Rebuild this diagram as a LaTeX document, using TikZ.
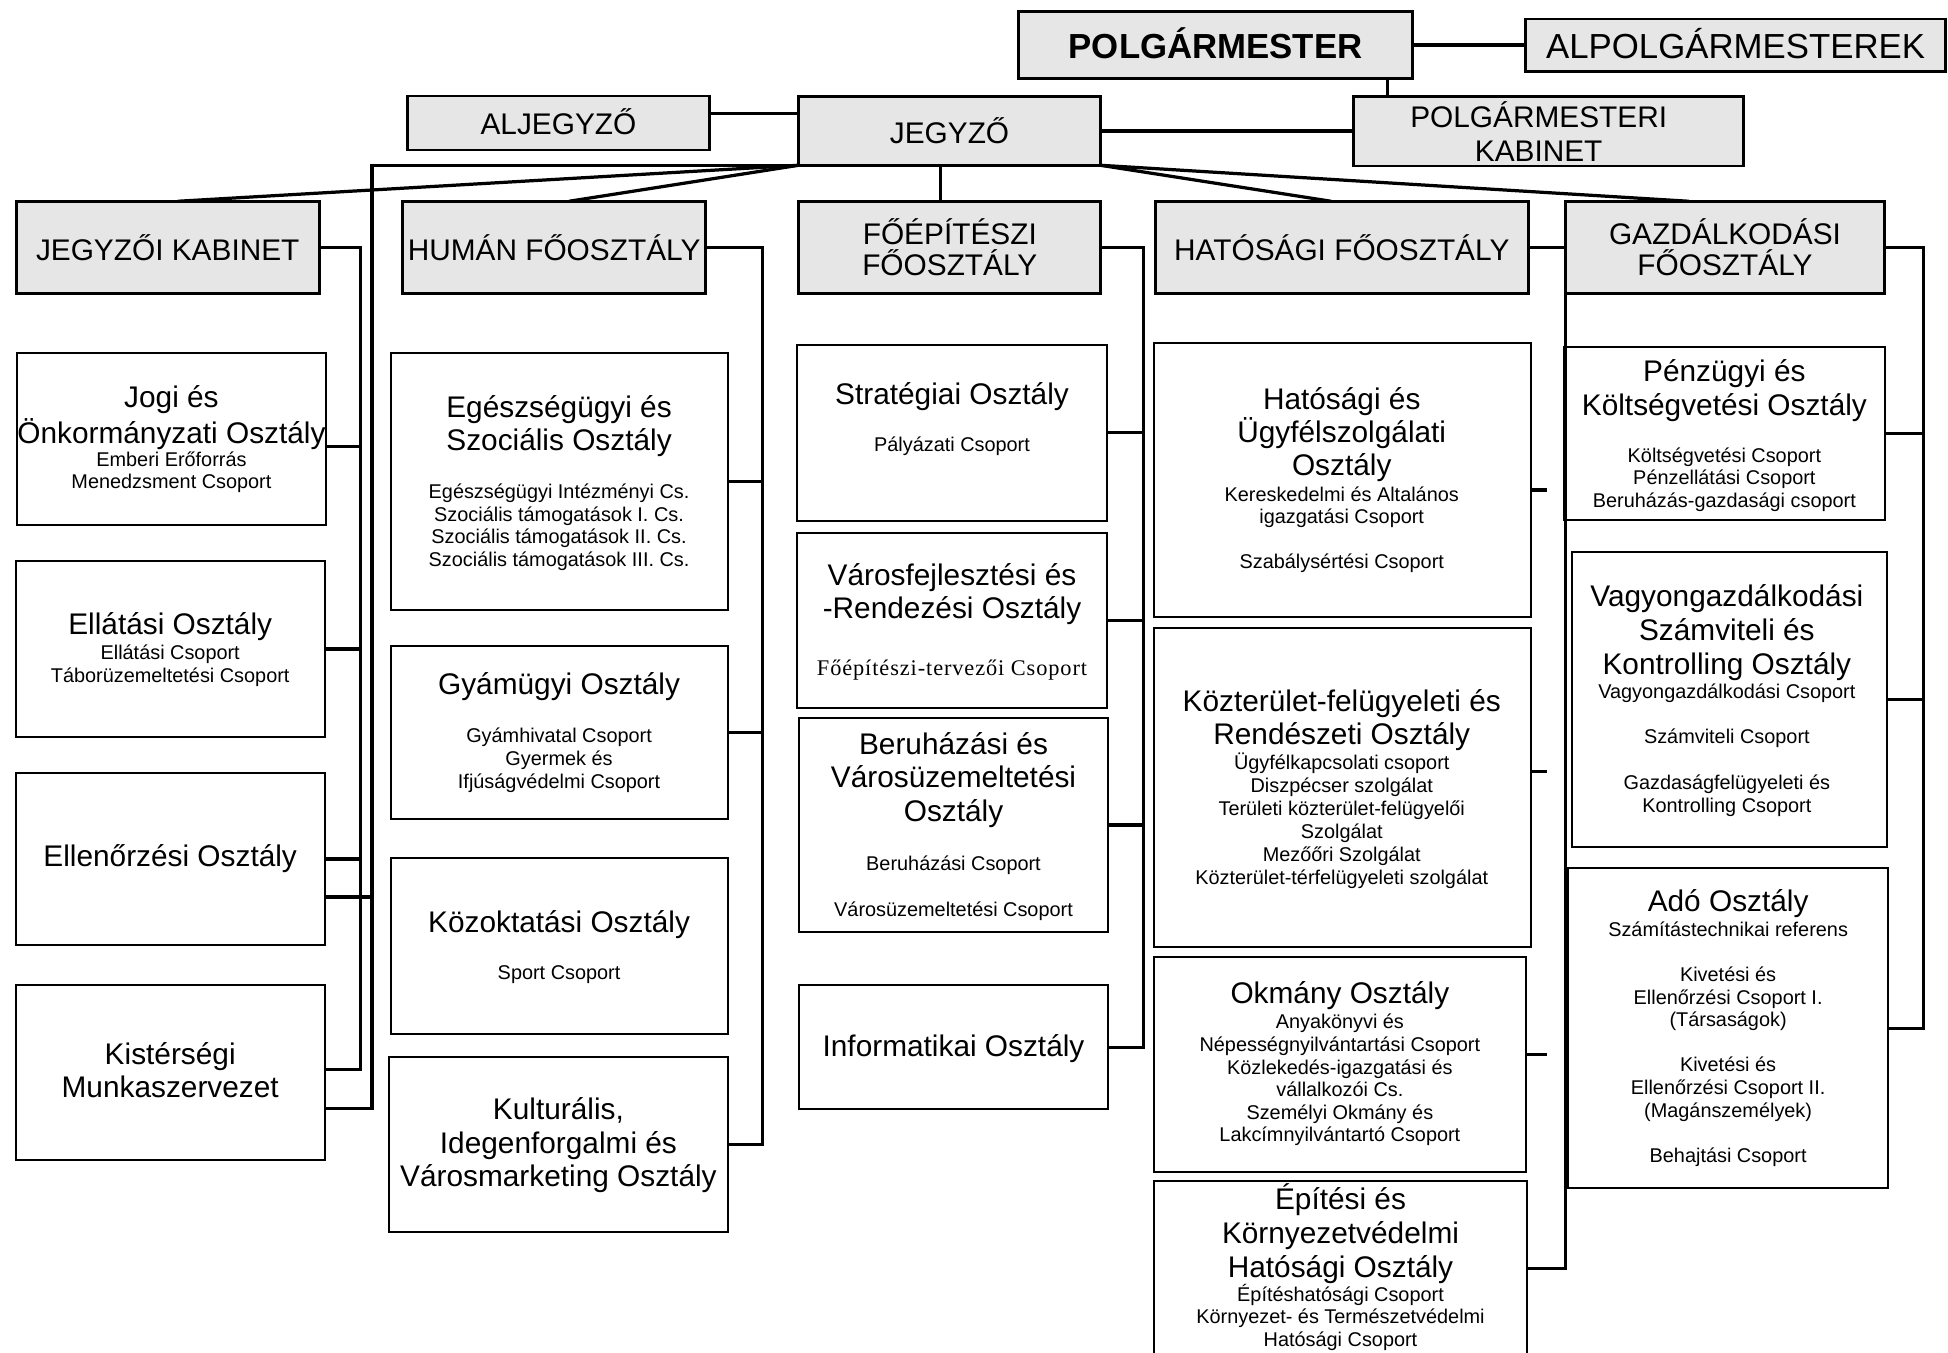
\documentclass[tikz,border=0pt]{standalone}
\usepackage{fontspec}
\setmainfont{Liberation Sans}
\newfontfamily\serifls[LetterSpace=4]{Liberation Serif}
\definecolor{hdrgray}{RGB}{230,230,230}
\newcommand\mystrut{\vrule height 1em depth 0pt width 0pt}
\newcommand\hdrbox[7]{\node[hdr,#6,minimum width={(#4-#2)*0.5pt},minimum height={(#5-#3)*0.5pt}] (#1) at (#2,#3) {#7};}
\newcommand\depbox[5]{\node[dep,minimum width={(#4-#2)*0.5pt},minimum height={(#5-#3)*0.5pt}] (#1) at (#2,#3) {};}
\newcommand\tbig[5]{\node[txt,font=\fontsize{12}{#4}\selectfont] (#1) at (#2,#3) {\mystrut #5};}
\newcommand\tsml[5]{\node[txt,font=\fontsize{8}{#4}\selectfont] (#1) at (#2,#3) {\mystrut #5};}
\begin{document}
\begin{tikzpicture}[x=0.5pt,y=-0.5pt,
  hdr/.style={draw,fill=hdrgray,line width=1.15pt,inner sep=0pt,outer sep=0pt,anchor=north west,align=center,font=\fontsize{12}{13}\selectfont},
  dep/.style={draw,line width=0.8pt,inner sep=0pt,outer sep=0pt,anchor=north west},
  conn/.style={line width=1.3pt},
  txt/.style={anchor=north,align=center,inner sep=0pt,outer sep=0pt}]
\useasboundingbox (0,0) rectangle (1568,1089);

% ---- header boxes ----
\hdrbox{polg}{820}{9.5}{1137}{63}{font=\bfseries\fontsize{14}{16}\selectfont}{\raisebox{1.5pt}{POLGÁRMESTER}}
\hdrbox{alpolg}{1228}{15.3}{1566}{57.7}{font=\fontsize{14}{16}\selectfont}{\raisebox{1.5pt}{ALPOLGÁRMESTEREK}}
\hdrbox{alj}{328}{77.3}{571}{120.7}{}{\raisebox{1pt}{ALJEGYZŐ}}
\hdrbox{jegyzo}{643}{77.8}{885.6}{133}{}{JEGYZŐ}
\hdrbox{pkab}{1089.5}{77.8}{1403.5}{133.6}{font=\fontsize{12}{13.5}\selectfont}{POLGÁRMESTERI\hspace*{8pt}\\KABINET\hspace*{8pt}}
\hdrbox{jkab}{13}{162}{257}{236}{}{JEGYZŐI KABINET}
\hdrbox{human}{324}{162}{568}{236}{}{HUMÁN FŐOSZTÁLY}
\hdrbox{foep}{643}{162}{886}{236}{font=\fontsize{12}{12.5}\selectfont}{FŐÉPÍTÉSZI\\FŐOSZTÁLY}
\hdrbox{hat}{930}{162}{1230}{236}{}{HATÓSÁGI FŐOSZTÁLY}
\hdrbox{gazd}{1260}{162}{1517}{236}{font=\fontsize{12}{12.5}\selectfont}{GAZDÁLKODÁSI\\FŐOSZTÁLY}

% ---- department boxes ----
\depbox{jogi}{13.7}{284}{262.5}{422.6}
\depbox{ellat}{12.5}{451.6}{261.4}{593}
\depbox{ellen}{12.5}{622}{261.4}{761}
\depbox{kist}{12.5}{793}{261.4}{934}
\depbox{egesz}{314.5}{284}{586}{491}
\depbox{gyam}{314.5}{520}{586}{659.5}
\depbox{kozokt}{314.5}{691}{586}{832.4}
\depbox{kult}{313}{850.6}{586}{991.4}
\depbox{strat}{641.6}{277.7}{891}{419}
\depbox{varos}{641.6}{429.3}{891}{570}
\depbox{beruh}{643}{577.7}{892}{750.5}
\depbox{info}{643}{793}{892}{892.7}
\depbox{hatug}{928.5}{276.4}{1232}{497}
\depbox{kozter}{928.5}{505.3}{1232}{762}
\depbox{okm}{928.5}{770}{1228.5}{943}
\depbox{epit}{928.5}{950.4}{1229}{1100}
\depbox{penz}{1259}{279}{1517}{418.6}
\depbox{vagy}{1265}{444}{1519}{681.5}
\depbox{ado}{1262}{699}{1520}{956.6}

% ---- texts ----
\tbig{jogiT}{138}{304.1}{14.5pt}{Jogi és\\Önkormányzati Osztály}
\tsml{jogiS}{138}{359.3}{9.1pt}{Emberi Erőforrás\\Menedzsment Csoport}
\tbig{ellatT}{137}{486.5}{13.5pt}{Ellátási Osztály}
\tsml{ellatS}{137}{514.9}{9.4pt}{Ellátási Csoport\\Táborüzemeltetési Csoport}
\tbig{ellenT}{137}{673.1}{13.5pt}{Ellenőrzési Osztály}
\tbig{kistT}{137}{832.7}{13.4pt}{Kistérségi\\Munkaszervezet}
\tbig{egeszT}{450}{312.2}{13.4pt}{Egészségügyi és\\Szociális Osztály}
\tsml{egeszS}{450}{385.6}{9pt}{Egészségügyi Intézményi Cs.\\Szociális támogatások I. Cs.\\Szociális támogatások II. Cs.\\Szociális támogatások III. Cs.}
\tbig{gyamT}{450}{534.9}{13.5pt}{Gyámügyi Osztály}
\tsml{gyamS}{450}{582}{9.25pt}{Gyámhivatal Csoport\\Gyermek és\\Ifjúságvédelmi Csoport}
\tbig{kozoktT}{450}{726.7}{13.5pt}{Közoktatási Osztály}
\tsml{kozoktS}{450}{772.5}{9pt}{Sport Csoport}
\tbig{kultT}{449.5}{877}{13.55pt}{Kulturális,\\Idegenforgalmi és\\Városmarketing Osztály}
\tbig{stratT}{766.3}{301.5}{13.5pt}{Stratégiai Osztály}
\tsml{stratS}{766.3}{347.2}{9pt}{Pályázati Csoport}
\tbig{varosT}{766.3}{447.2}{13.4pt}{Városfejlesztési és\\-Rendezési Osztály}
\node[txt,font=\serifls\fontsize{9}{10}\selectfont] (varosS) at (766.3,525.4) {\mystrut Főépítészi-tervezői Csoport};
\tbig{beruhT}{767.5}{583.2}{13.5pt}{Beruházási és\\Városüzemeltetési\\Osztály}
\tsml{beruhS}{767.5}{684.5}{9.25pt}{Beruházási Csoport\\[9.25pt]Városüzemeltetési Csoport}
\tbig{infoT}{767.5}{826.5}{13.5pt}{Informatikai Osztály}
\tbig{hatugT}{1080}{305.5}{13.4pt}{Hatósági és\\Ügyfélszolgálati\\Osztály}
\tsml{hatugS}{1080}{388}{8.85pt}{Kereskedelmi és Altalános\\igazgatási Csoport\\[9.25pt]Szabálysértési Csoport}
\tbig{kozterT}{1080}{548.3}{13.4pt}{Közterület-felügyeleti és\\Rendészeti Osztály}
\tsml{kozterS}{1080}{603.4}{9.25pt}{Ügyfélkapcsolati csoport\\Diszpécser szolgálat\\Területi közterület-felügyelői\\Szolgálat\\Mezőőri Szolgálat\\Közterület-térfelügyeleti szolgálat}
\tbig{okmT}{1078.5}{783.6}{13.5pt}{Okmány Osztály}
\tsml{okmS}{1078.5}{812.2}{9.1pt}{Anyakönyvi és\\Népességnyilvántartási Csoport\\Közlekedés-igazgatási és\\vállalkozói Cs.\\Személyi Okmány és\\Lakcímnyilvántartó Csoport}
\tbig{epitT}{1079}{949.5}{13.75pt}{Építési és\\Környezetvédelmi\\Hatósági Osztály}
\tsml{epitS}{1079}{1031.3}{9.1pt}{Építéshatósági Csoport\\Környezet- és Természetvédelmi\\Hatósági Csoport}
\tbig{penzT}{1388}{282.7}{13.8pt}{Pénzügyi és\\Költségvetési Osztály}
\tsml{penzS}{1388}{356}{9.15pt}{Költségvetési Csoport\\Pénzellátási Csoport\\Beruházás-gazdasági csoport}
\tbig{vagyT}{1390}{463.8}{13.75pt}{Vagyongazdálkodási\\Számviteli és\\Kontrolling Osztály}
\tsml{vagyS}{1390}{546.5}{9.1pt}{Vagyongazdálkodási Csoport\\[9pt]Számviteli Csoport\\[9.4pt]Gazdaságfelügyeleti és\\Kontrolling Csoport}
\tbig{adoT}{1391}{709.3}{13.5pt}{Adó Osztály}
\tsml{adoS}{1391}{737.6}{9.1pt}{Számítástechnikai referens\\[9.1pt]Kivetési és\\Ellenőrzési Csoport I.\\(Társaságok)\\[9.1pt]Kivetési és\\Ellenőrzési Csoport II.\\(Magánszemélyek)\\[9.1pt]Behajtási Csoport}

% ---- bus coordinates ----
\coordinate (busA) at (290.3,0);
\coordinate (busB) at (299.5,0);
\coordinate (busH) at (614,0);
\coordinate (busF) at (920.6,0);
\coordinate (busG) at (1548.5,0);
\coordinate (stubX) at (1245,0);

% ---- top connectors ----
\draw[conn] (polg.east) -- (polg.east -| alpolg.west);
\draw[conn] ([xshift=-10.1pt]polg.south east) -- ([xshift=-10.1pt]polg.south east |- pkab.north);
\draw[conn] ([yshift=3.9pt]alj.east) -- ([yshift=3.9pt]alj.east -| jegyzo.west);
\draw[conn] (jegyzo.east) -- (jegyzo.east -| pkab.west);

% ---- fan from JEGYZŐ ----
\draw[conn] (jegyzo.south west) -- ([xshift=4pt]jkab.north);
\draw[conn] (jegyzo.south west) -- ([xshift=6pt]human.north);
\draw[conn] ([xshift=-3.75pt]jegyzo.south) -- ([xshift=-3.75pt]jegyzo.south |- foep.north);
\draw[conn] (jegyzo.south east) -- ([xshift=-4.25pt]hat.north);
\draw[conn] (jegyzo.south east) -- ([xshift=-14.5pt]gazd.north);
\draw[conn] (jegyzo.south west) -| ([yshift=-14.25pt]kist.east -| busB) -- ([yshift=-14.25pt]kist.east);
\draw[conn] ([yshift=-15.25pt]ellen.east) -- ([yshift=-15.25pt]ellen.east -| busB);

% ---- Jegyzői kabinet ----
\draw[conn] (jkab.east) -| ([yshift=1.25pt]kist.east -| busA) -- ([yshift=1.25pt]kist.east);
\draw[conn] ([yshift=-3pt]jogi.east) -- ([yshift=-3pt]jogi.east -| busA);
\draw[conn] (ellat.east) -- (ellat.east -| busA);
\draw[conn] (ellen.east) -- (ellen.east -| busA);

% ---- Humán ----
\draw[conn] (human.east) -| (kult.east -| busH) -- (kult.east);
\draw[conn] (egesz.east) -- (egesz.east -| busH);
\draw[conn] (gyam.east) -- (gyam.east -| busH);

% ---- Főépítészi ----
\draw[conn] (foep.east) -| (info.east -| busF) -- (info.east);
\draw[conn] (strat.east) -- (strat.east -| busF);
\draw[conn] (varos.east) -- (varos.east -| busF);
\draw[conn] (beruh.east) -- (beruh.east -| busF);

% ---- Hatósági ----
\draw[conn] (hat.east) -- (hat.east -| gazd.west);
\draw[conn] ([yshift=-35.2pt]epit.north east) -| (gazd.south west);
\draw[conn] ([yshift=-3.85pt]hatug.east) -- ([yshift=-3.85pt]hatug.east -| stubX);
\draw[conn] ([yshift=6.35pt]kozter.east) -- ([yshift=6.35pt]kozter.east -| stubX);
\draw[conn] ([yshift=3.75pt]okm.east) -- ([yshift=3.75pt]okm.east -| stubX);

% ---- Gazdálkodási ----
\draw[conn] (gazd.east) -| (ado.east -| busG) -- (ado.east);
\draw[conn] (penz.east) -- (penz.east -| busG);
\draw[conn] (vagy.east) -- (vagy.east -| busG);
\end{tikzpicture}
\end{document}
